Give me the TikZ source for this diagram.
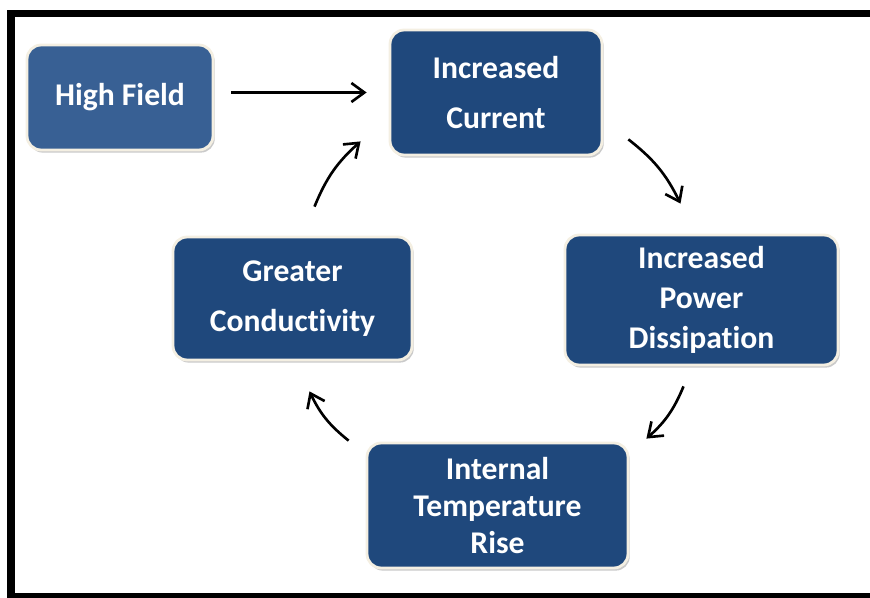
\documentclass[tikz,border=0pt]{standalone}
\usepackage{fontspec}
\setmainfont[RawFeature=-liga]{Carlito}
\usetikzlibrary{arrows.meta,shadows}

\definecolor{boxblue}{HTML}{1F487C}
\definecolor{fieldblue}{HTML}{386094}
\definecolor{rimcream}{HTML}{F4EFE2}

\tikzset{
	box/.style={rectangle, rounded corners=8pt, fill=boxblue, draw=rimcream,
		line width=1.6pt, inner sep=0pt, align=center, text=white,
		font=\fontsize{18}{22}\selectfont\bfseries,
		drop shadow={shadow xshift=1pt, shadow yshift=-1.5pt, fill=black!35, opacity=0.6}},
	flow/.style={line width=1.5pt, -{Straight Barb[length=2.6mm, width=3.8mm, line width=1.5pt]}},
	frame/.style={fill=black}
}

% cycle arrows all bend outward
\newcommand{\cyclearrow}[2]{
	\draw[flow] #1 to[bend left=13] #2;
}

\begin{document}
\begin{tikzpicture}[x=0.02cm, y=-0.02cm]
\useasboundingbox (0,0) rectangle (870,598);

% black frame, open on the right
\fill[frame] (7,10) rectangle (870,17);
\fill[frame] (7,10) rectangle (15,598);
\fill[frame] (7,593) rectangle (870,598);

\node[box, fill=fieldblue, minimum width=3.72cm, minimum height=2.1cm] (hf) at (120,97.5) {High Field};
\node[box, minimum width=4.24cm, minimum height=2.5cm, font=\fontsize{18}{28}\selectfont\bfseries] (cur) at (496,92.5) {Increased\\Current};
\node[box, minimum width=5.46cm, minimum height=2.6cm, font=\fontsize{18}{22.7}\selectfont\bfseries] (pow) at (701.5,300) {Increased\\Power\\Dissipation};
\node[box, minimum width=5.22cm, minimum height=2.5cm, font=\fontsize{18}{21}\selectfont\bfseries] (temp) at (497.5,505.5) {Internal\\Temperature\\Rise};
\node[box, minimum width=4.78cm, minimum height=2.46cm, font=\fontsize{18}{28.3}\selectfont\bfseries] (cond) at (292.5,298.5) {Greater\\Conductivity};

\draw[flow] ([shift={(17,-5)}]hf.east) -- ([shift={(-22,0)}]cur.west);

\cyclearrow{([shift={(25,-17)}]cur.south east)}{([shift={(-21,-30)}]pow.north)}
\cyclearrow{([shift={(-18,20)}]pow.south)}{([shift={(17,-3)}]temp.north east)}
\cyclearrow{([shift={(-17,-1)}]temp.north west)}{([shift={(17,30)}]cond.south)}
\cyclearrow{([shift={(22,-29)}]cond.north)}{([shift={(-28,-15)}]cur.south west)}
\end{tikzpicture}
\end{document}
